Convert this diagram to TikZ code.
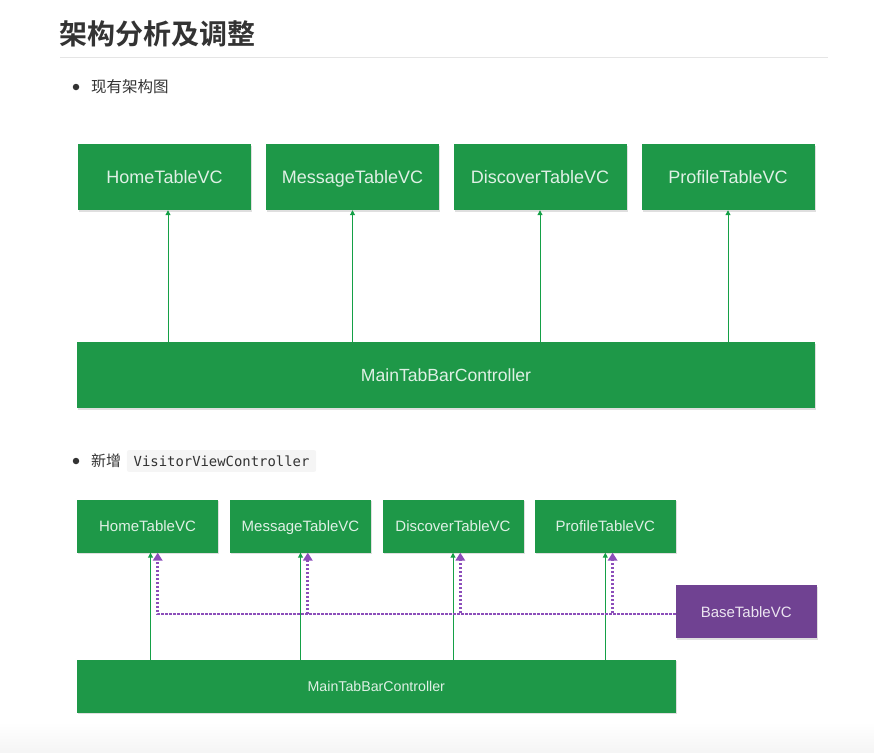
\documentclass[tikz,border=0pt]{standalone}
\usepackage{fontspec}
\setmainfont{Liberation Sans}
\setmonofont{DejaVu Sans Mono}
\newfontfamily\cjk{Noto Sans CJK SC}
\newfontfamily\cjkb{Noto Sans CJK SC Bold}
\usetikzlibrary{arrows.meta,shadows}
\definecolor{boxgreen}{RGB}{30,152,72}
\definecolor{linegreen}{RGB}{20,160,70}
\definecolor{boxpurple}{RGB}{112,66,146}
\definecolor{dotpurple}{RGB}{140,78,186}
\definecolor{txt}{RGB}{51,51,51}
\tikzset{
  vcbox/.style={rectangle, fill=boxgreen, text=white!86!boxgreen, inner sep=0pt,
    drop shadow={opacity=0.25, shadow xshift=1pt, shadow yshift=-1.5pt}},
  bigbox/.style={vcbox, minimum width=173pt, minimum height=66pt,
    font=\fontsize{18}{20}\selectfont, text height=13pt, text depth=0pt},
  smallbox/.style={vcbox, minimum width=141pt, minimum height=53pt,
    font=\fontsize{15}{17}\selectfont, text height=10.8pt, text depth=0pt},
  basebox/.style={smallbox, fill=boxpurple, text=white!86!boxpurple},
  garrow/.style={draw=linegreen, line width=1pt, -{Triangle[length=5pt,width=5pt]}},
  parrow/.style={draw=dotpurple, line width=2.8pt, dash pattern=on 2.2pt off 1.8pt,
    -{Triangle[length=8pt,width=9.5pt]}},
}
\begin{document}
\begin{tikzpicture}[x=1pt,y=-1pt]
\useasboundingbox (0,0) rectangle (874,752);
\shade[top color=white, bottom color=black!4] (0,722) rectangle (874,752);
% title
\node[anchor=west, text=txt, font=\cjkb\fontsize{28}{30}\selectfont, inner sep=0pt] (title) at (59.5,34) {架构分析及调整};
\draw[black!10, line width=0.8pt] (60,57) coordinate (hrl) -- (828,57) coordinate (hrr);
% bullet 1
\node[circle, fill=txt, inner sep=0pt, minimum size=6.5pt] (b1) at (76,87) {};
\node[anchor=west, text=txt, font=\cjk\fontsize{15.5}{18}\selectfont, inner sep=0pt] (t1) at (91,87) {现有架构图};
% top diagram
\node[bigbox] (h1) at (164.5,177) {HomeTableVC};
\node[bigbox] (h2) at (352.5,177) {MessageTableVC};
\node[bigbox] (h3) at (540,177) {DiscoverTableVC};
\node[bigbox] (h4) at (728,177) {ProfileTableVC};
\node[vcbox, minimum width=738pt, minimum height=66pt, font=\fontsize{17.6}{20}\selectfont, text height=12.7pt, text depth=0pt] (m1) at (446,375) {MainTabBarController};
\coordinate (h1a) at ([xshift=3.5pt]h1.south);
\draw[garrow] (m1.north -| h1a) -- (h1a);
\draw[garrow] (m1.north -| h2.south) -- (h2.south);
\draw[garrow] (m1.north -| h3.south) -- (h3.south);
\draw[garrow] (m1.north -| h4.south) -- (h4.south);
% bullet 2
\node[circle, fill=txt, inner sep=0pt, minimum size=6.5pt] (b2) at (76,461) {};
\node[anchor=west, text=txt, font=\cjk\fontsize{15}{18}\selectfont, inner sep=0pt] (t2) at (91,461) {新增};
\node[anchor=west, fill=black!4, rounded corners=2pt, minimum height=21.7pt, minimum width=189.3pt, inner sep=0pt, text=txt, font=\ttfamily\fontsize{13.9}{16}\selectfont] (code) at (126.7,461) {VisitorViewController};
% bottom diagram
\node[smallbox] (s1) at (147.5,526) {HomeTableVC};
\node[smallbox] (s2) at (300.5,526) {MessageTableVC};
\node[smallbox] (s3) at (453,526) {DiscoverTableVC};
\node[smallbox] (s4) at (605.3,526) {ProfileTableVC};
\node[basebox] (base) at (746.2,611.7) {BaseTableVC};
\node[vcbox, minimum width=598.7pt, minimum height=52.7pt, font=\fontsize{14.2}{16}\selectfont, text height=10.2pt, text depth=0pt] (m2) at (376.3,686.3) {MainTabBarController};
\coordinate (s1a) at ([xshift=3pt]s1.south);
\draw[garrow] (m2.north -| s1a) -- (s1a);
\draw[garrow] (m2.north -| s2.south) -- (s2.south);
\draw[garrow] (m2.north -| s3.south) -- (s3.south);
\draw[garrow] (m2.north -| s4.south) -- (s4.south);
\draw[parrow] ([yshift=-2.3pt]base.west) -| ([xshift=7.3pt]s4.south);
\draw[parrow] ([yshift=-2.3pt]base.west) -| ([xshift=7.3pt]s3.south);
\draw[parrow] ([yshift=-2.3pt]base.west) -| ([xshift=7.3pt]s2.south);
\draw[parrow] ([yshift=-2.3pt]base.west) -| ([xshift=10.2pt]s1.south);
\end{tikzpicture}
\end{document}
